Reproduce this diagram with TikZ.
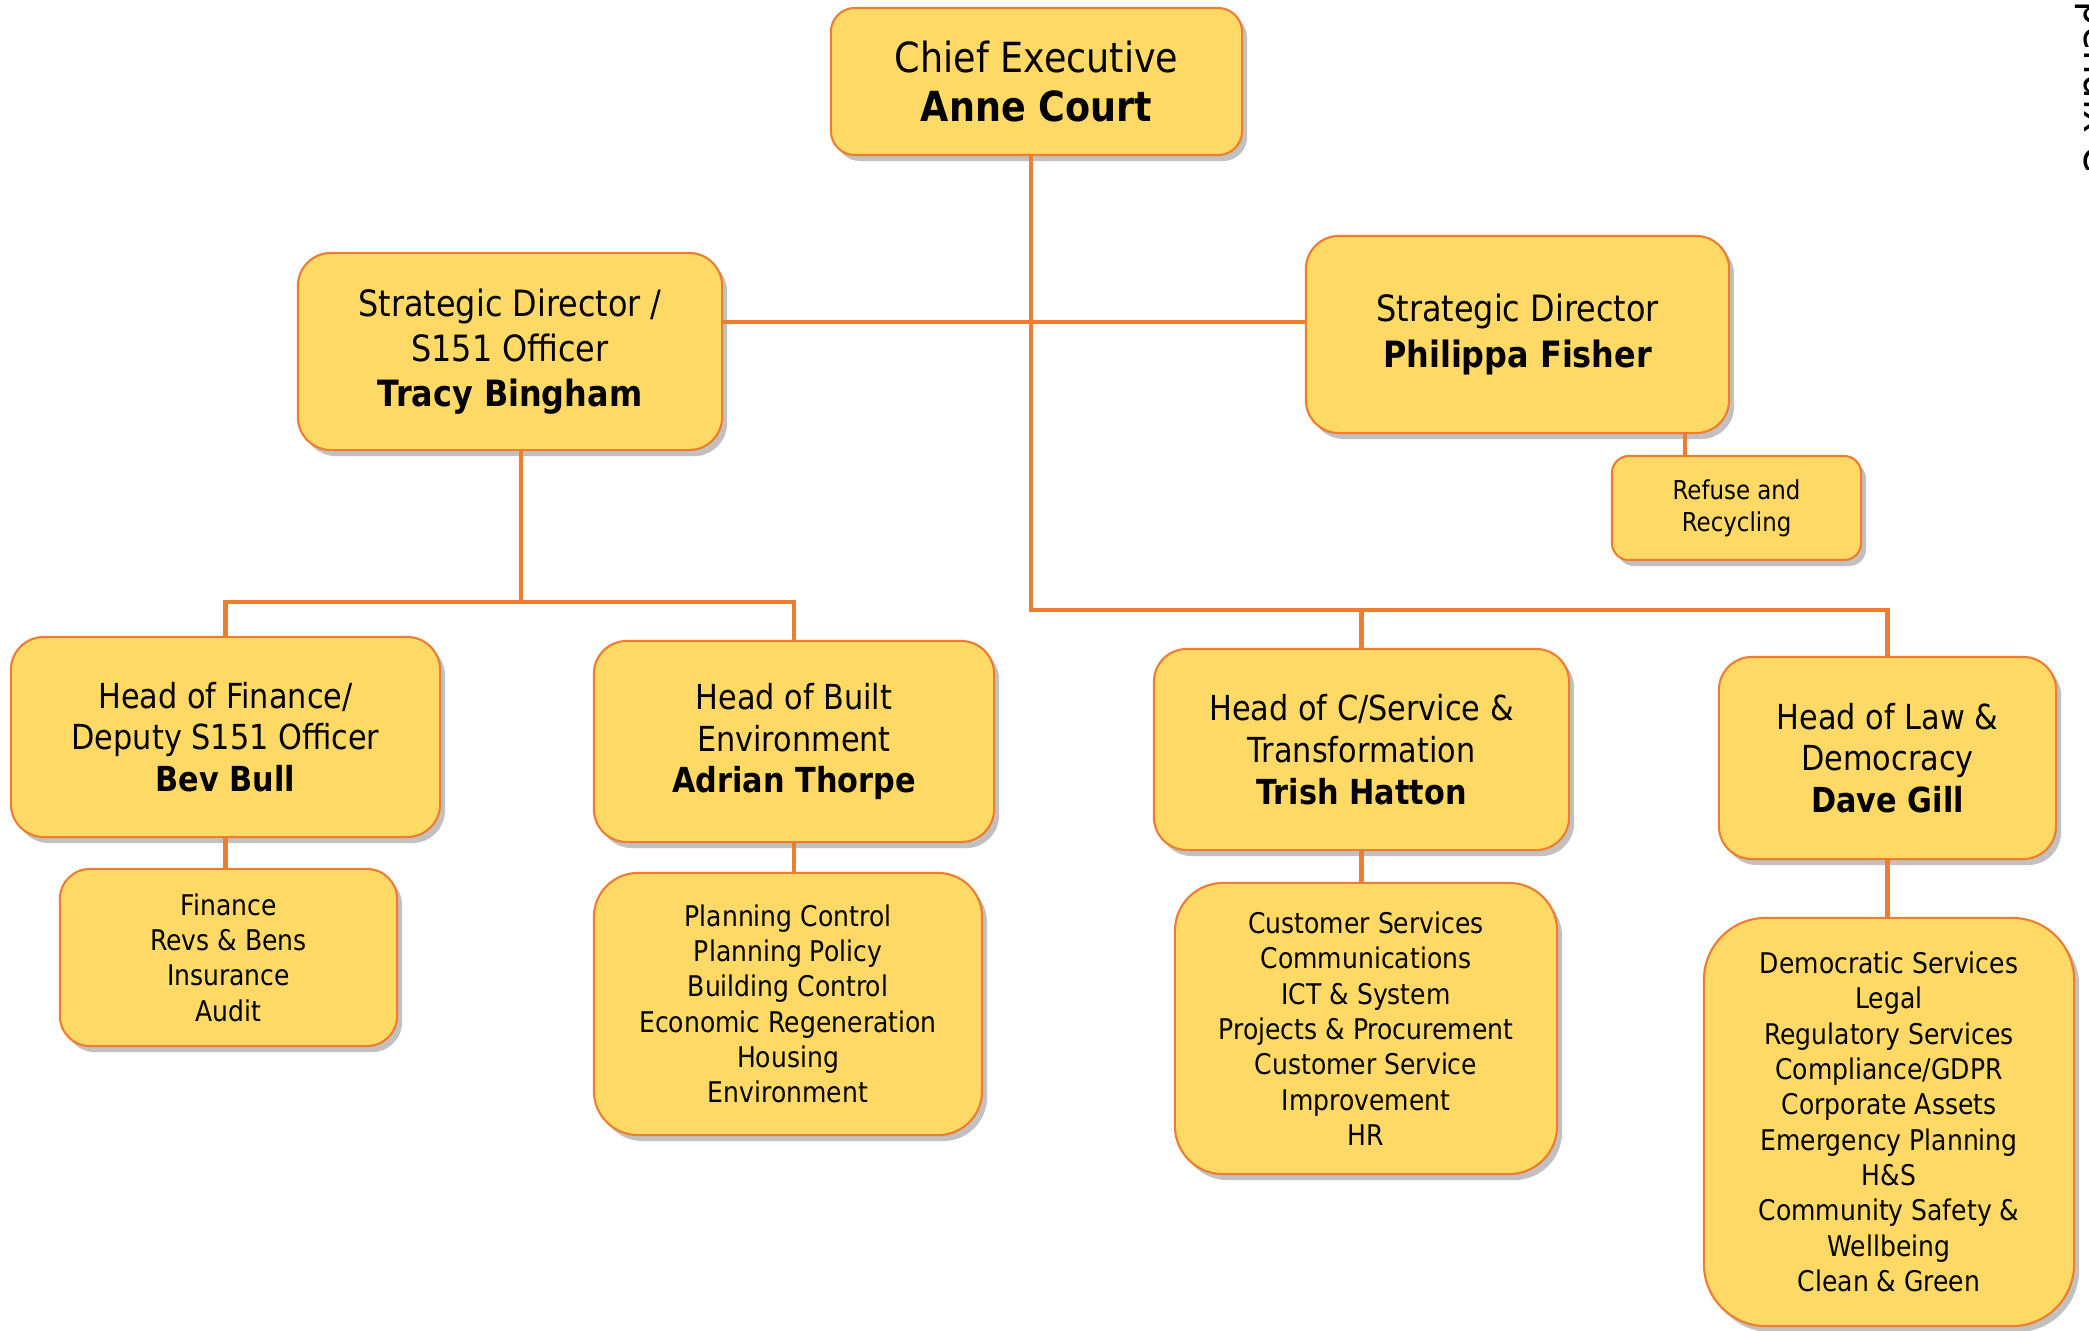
\documentclass[tikz,border=0pt]{standalone}
\usepackage{fontspec}
\setmainfont{DejaVu Sans}[FakeStretch=0.88]
\usetikzlibrary{shadows}

\definecolor{boxfill}{HTML}{FFD966}
\definecolor{boxline}{HTML}{ED7D31}

% font sizes per level
\newcommand{\topsize}{\fontsize{11.8}{14.2}\selectfont}
\newcommand{\dirsize}{\fontsize{10.3}{12.8}\selectfont}
\newcommand{\headsize}{\fontsize{9.8}{11.9}\selectfont}
\newcommand{\teamsize}{\fontsize{8.1}{10.05}\selectfont}
\newcommand{\smallteamsize}{\fontsize{7.4}{9.1}\selectfont}

\tikzset{
  post/.style={draw=boxline, line width=0.6pt, fill=boxfill, align=center,
    inner sep=0pt,
    drop shadow={shadow xshift=0.05cm, shadow yshift=-0.06cm,
      opacity=0.35, fill=black!70}},
  link/.style={draw=boxline, line width=1.4pt}
}

\begin{document}
\begin{tikzpicture}[x=0.01cm,y=-0.01cm]
  \useasboundingbox (0,0) rectangle (2089,1330);

  % posts
  \node[post, font=\topsize, rounded corners=0.24cm, minimum width=4.11cm, minimum height=1.47cm]
    (ceo) at (1036.5,81.5) {Chief Executive\\\textbf{Anne Court}};
  \node[post, font=\dirsize, rounded corners=0.33cm, minimum width=4.24cm, minimum height=1.97cm]
    (sdl) at (510,351.5) {Strategic Director /\\S151 Officer\\\textbf{Tracy Bingham}};
  \node[post, font=\dirsize, rounded corners=0.33cm, minimum width=4.23cm, minimum height=1.97cm]
    (sdr) at (1517.5,334.5) {Strategic Director\\\textbf{Philippa Fisher}};
  \node[post, font=\smallteamsize, rounded corners=0.17cm, minimum width=2.49cm, minimum height=1.04cm]
    (refuse) at (1736.5,508) {Refuse and\\Recycling};

  \node[post, font=\headsize, rounded corners=0.33cm, minimum width=4.29cm, minimum height=2.00cm]
    (hfin) at (225.5,737) {Head of Finance/\\Deputy S151 Officer\\\textbf{Bev Bull}};
  \node[post, font=\headsize, rounded corners=0.33cm, minimum width=4.00cm, minimum height=2.01cm]
    (hbuilt) at (794,741.5) {Head of Built\\Environment\\\textbf{Adrian Thorpe}};
  \node[post, font=\headsize, rounded corners=0.33cm, minimum width=4.15cm, minimum height=2.01cm]
    (hcs) at (1361.5,749.5) {Head of C/Service \&\\Transformation\\\textbf{Trish Hatton}};
  \node[post, font=\headsize, rounded corners=0.33cm, minimum width=3.37cm, minimum height=2.02cm]
    (hlaw) at (1887.5,758) {Head of Law \&\\Democracy\\\textbf{Dave Gill}};

  % teams
  \node[post, font=\teamsize, rounded corners=0.30cm, minimum width=3.37cm, minimum height=1.77cm]
    (tfin) at (228.5,957.5) {Finance\\Revs \& Bens\\Insurance\\Audit};
  \node[post, font=\teamsize, rounded corners=0.44cm, minimum width=3.88cm, minimum height=2.62cm]
    (tbuilt) at (788,1004) {Planning Control\\Planning Policy\\Building Control\\
      Economic Regeneration\\Housing\\Environment};
  \node[post, font=\teamsize, rounded corners=0.48cm, minimum width=3.82cm, minimum height=2.91cm]
    (tcs) at (1366,1028.5) {Customer Services\\Communications\\ICT \& System\\
      Projects \& Procurement\\Customer Service\\Improvement\\HR};
  \node[post, font=\teamsize, rounded corners=0.62cm, minimum width=3.70cm, minimum height=4.08cm]
    (tlaw) at (1889,1122) {Democratic Services\\Legal\\Regulatory Services\\
      Compliance/GDPR\\Corporate Assets\\Emergency Planning\\H\&S\\
      Community Safety \&\\Wellbeing\\Clean \& Green};

  % page label running down the right margin
  \node[rotate=-90, anchor=base east, inner sep=0pt, font=\fontsize{12.5}{14}\selectfont]
    (appx) at (2084,173) {Appendix C};

  % junctions
  \coordinate (mid) at (1031,322);
  \coordinate (split) at (1031,610);
  \coordinate (lsplit) at (521,602);
  \coordinate (rlink) at (1685,450);

  \begin{scope}[link]
    \draw (ceo.south -| split) -- (split) -- (split -| hlaw.north) -- (hlaw.north);
    \draw (split -| hcs.north) -- (hcs.north);
    \draw (sdl.east |- mid) -- (sdr.west |- mid);
    \draw (sdl.south -| lsplit) -- (lsplit);
    \draw (hfin.north) -- (hfin.north |- lsplit) -- (hbuilt.north |- lsplit) -- (hbuilt.north);
    \draw (sdr.south -| rlink) -- (refuse.north -| rlink);
    \draw (hfin.south) -- (hfin.south |- tfin.north);
    \draw (hbuilt.south) -- (hbuilt.south |- tbuilt.north);
    \draw (hcs.south) -- (hcs.south |- tcs.north);
    \draw (hlaw.south) -- (hlaw.south |- tlaw.north);
  \end{scope}
\end{tikzpicture}
\end{document}
